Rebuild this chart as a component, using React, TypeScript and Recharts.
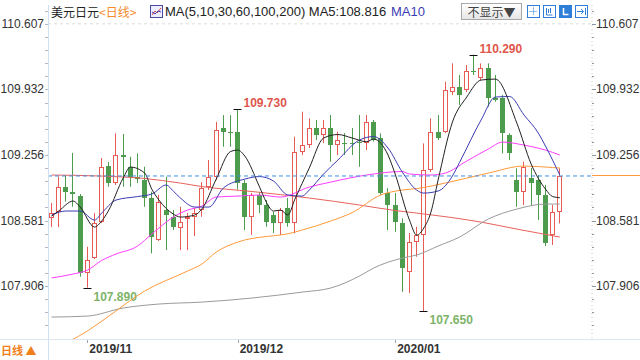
import React from "react";
import { ComposedChart, Bar, Line, XAxis, YAxis, ReferenceLine } from "recharts";

const dates = [
  "2019-10-25", "2019-10-28", "2019-10-29", "2019-10-30", "2019-10-31",
  "2019-11-01", "2019-11-04", "2019-11-05", "2019-11-06", "2019-11-07", "2019-11-08",
  "2019-11-11", "2019-11-12", "2019-11-13", "2019-11-14", "2019-11-15",
  "2019-11-18", "2019-11-19", "2019-11-20", "2019-11-21", "2019-11-22",
  "2019-11-25", "2019-11-26", "2019-11-27", "2019-11-28", "2019-11-29",
  "2019-12-02", "2019-12-03", "2019-12-04", "2019-12-05", "2019-12-06",
  "2019-12-09", "2019-12-10", "2019-12-11", "2019-12-12", "2019-12-13",
  "2019-12-16", "2019-12-17", "2019-12-18", "2019-12-19", "2019-12-20",
  "2019-12-23", "2019-12-24", "2019-12-25", "2019-12-26", "2019-12-27",
  "2019-12-30", "2019-12-31",
  "2020-01-02", "2020-01-03",
  "2020-01-06", "2020-01-07", "2020-01-08", "2020-01-09", "2020-01-10",
  "2020-01-13", "2020-01-14", "2020-01-15", "2020-01-16", "2020-01-17",
  "2020-01-20", "2020-01-21", "2020-01-22", "2020-01-23", "2020-01-24",
  "2020-01-27", "2020-01-28", "2020-01-29", "2020-01-30", "2020-01-31",
  "2020-02-03", "2020-02-04",
];

const opens = [
  108.604, 108.672, 108.929, 108.877, 108.833, 108.037, 108.195, 108.569, 109.142, 108.964,
  109.256, 109.135, 109.032, 108.998, 108.81, 108.38, 108.689, 108.62, 108.5, 108.596,
  108.617, 108.689, 108.929, 109.032, 109.534, 109.496, 109.496, 108.964, 108.62, 108.844,
  108.741, 108.638, 108.552, 108.71, 108.552, 109.29, 109.358, 109.531, 109.462, 109.531,
  109.358, 109.382, 109.382, 109.389, 109.376, 109.599, 109.427, 108.861, 108.741, 108.552,
  108.054, 108.363, 108.432, 109.101, 109.496, 109.496, 109.908, 109.959, 109.925, 110.124,
  110.046, 110.149, 109.84, 109.84, 109.462, 108.998, 108.878, 109.019, 108.998, 108.844,
  108.432, 108.671,
];
const highs = [
  108.761, 109.032, 109.049, 109.279, 108.854, 108.311, 108.658, 109.225, 109.186, 109.479,
  109.472, 109.238, 109.273, 109.135, 108.878, 108.844, 109.032, 108.689, 108.723, 108.658,
  108.71, 108.977, 109.204, 109.597, 109.667, 109.667, 109.73, 108.998, 108.864, 108.875,
  108.792, 108.672, 108.71, 108.813, 109.444, 109.702, 109.634, 109.616, 109.616, 109.668,
  109.496, 109.482, 109.534, 109.668, 109.668, 109.616, 109.479, 108.916, 108.864, 108.604,
  108.452, 108.517, 109.376, 109.634, 109.668, 110.01, 110.2, 110.08, 110.183, 110.29,
  110.2, 110.2, 110.08, 109.874, 109.479, 109.119, 109.187, 109.122, 109.05, 108.947,
  108.741, 109.119,
];
const lows = [
  108.514, 108.514, 108.775, 108.723, 108.002, 107.89, 108.184, 108.555, 108.929, 108.947,
  108.929, 108.929, 108.967, 108.723, 108.243, 108.37, 108.277, 108.483, 108.277, 108.277,
  108.421, 108.62, 108.895, 108.998, 109.341, 109.341, 108.9, 108.483, 108.432, 108.658,
  108.517, 108.452, 108.432, 108.517, 108.449, 109.256, 109.328, 109.41, 109.379, 109.187,
  109.256, 109.256, 109.256, 109.135, 109.307, 109.393, 108.844, 108.483, 108.465, 107.848,
  107.834, 108.208, 107.65, 109.08, 109.41, 109.482, 109.874, 109.77, 109.904, 110.08,
  110.028, 109.753, 109.805, 109.273, 109.204, 108.723, 108.74, 108.74, 108.586, 108.318,
  108.329, 108.552,
];
const closes = [
  108.661, 108.929, 108.877, 108.854, 108.037, 108.174, 108.555, 109.135, 108.964, 109.256,
  109.238, 109.032, 109.005, 108.81, 108.408, 108.775, 108.637, 108.517, 108.569, 108.617,
  108.658, 108.912, 109.032, 109.513, 109.496, 109.482, 108.964, 108.62, 108.844, 108.741,
  108.569, 108.552, 108.689, 108.552, 109.29, 109.358, 109.531, 109.462, 109.531, 109.358,
  109.41, 109.376, 109.376, 109.379, 109.599, 109.41, 108.861, 108.741, 108.569, 108.089,
  108.363, 108.432, 109.101, 109.496, 109.428, 109.925, 109.959, 109.874, 110.124, 110.116,
  110.149, 109.84, 109.822, 109.479, 109.273, 108.878, 109.135, 108.967, 108.844, 108.346,
  108.671, 109.04,
];

// moving averages: [candle index, value]
const ma5: [number, number][] = [
  [0, 108.627], [1, 108.679], [3, 108.782], [4, 108.72], [6, 108.514], [7, 108.576], [8, 108.689],
  [10, 109.019], [11, 109.132], [13, 109.07], [14, 108.905], [15, 108.792], [17, 108.648], [18, 108.617],
  [20, 108.638], [21, 108.7], [23, 109.008], [25, 109.292], [26, 109.307], [27, 109.245], [29, 108.936],
  [30, 108.771], [31, 108.679], [32, 108.689], [33, 108.638], [34, 108.802], [36, 109.122], [38, 109.431],
  [40, 109.467], [42, 109.431], [44, 109.393], [45, 109.42], [47, 109.256], [48, 109.06], [50, 108.586],
  [51, 108.431], [52, 108.504], [53, 108.668], [54, 108.998], [56, 109.595], [58, 109.853], [60, 110.028],
  [62, 110.038], [65, 109.585], [67, 109.163], [69, 108.905], [70, 108.828], [71, 108.816],
];
const ma10: [number, number][] = [
  [0, 108.638], [2, 108.679], [4, 108.679], [6, 108.586], [7, 108.658], [9, 108.792], [12, 108.828],
  [14, 108.854], [16, 108.947], [17, 108.885], [18, 108.813], [20, 108.72], [22, 108.72], [24, 108.916],
  [27, 109.008], [29, 109.034], [31, 108.988], [33, 108.844], [35, 108.833], [36, 108.895], [38, 109.06],
  [40, 109.204], [43, 109.41], [45, 109.446], [47, 109.328], [49, 109.08], [51, 108.895], [52, 108.864],
  [54, 108.885], [56, 109.04], [57, 109.18], [60, 109.616], [62, 109.853], [64, 109.858], [66, 109.668],
  [68, 109.482], [69, 109.348], [71, 109.05],
];
const ma30: [number, number][] = [
  [0, 107.99], [3, 108.03], [5, 108.07], [7, 108.17], [9, 108.236], [12, 108.318], [14, 108.442],
  [17, 108.617], [19, 108.689], [21, 108.73], [23, 108.823], [26, 108.833], [29, 108.844], [32, 108.823],
  [36, 108.926], [39, 108.977], [44, 109.05], [49, 109.086], [50, 109.06], [53, 109.05], [55, 109.07],
  [58, 109.194], [61, 109.317], [63, 109.389], [66, 109.358], [69, 109.307], [71, 109.256],
];
const ma60: [number, number][] = [
  [0, 107.247], [5, 107.443], [8, 107.597], [13, 107.855], [19, 108.061], [21, 108.133], [23, 108.256],
  [26, 108.359], [34, 108.462], [35, 108.483], [39, 108.576], [42, 108.663], [46, 108.845], [49, 108.895],
  [51, 108.91], [55, 108.967], [61, 109.07], [66, 109.142], [70, 109.127], [71, 109.122],
];
const ma100: [number, number][] = [
  [0, 107.587], [5, 107.597], [10, 107.68], [15, 107.721], [21, 107.741], [28, 107.783], [35, 107.844],
  [39, 107.886], [43, 108.009], [45, 108.092], [49, 108.195], [51, 108.226], [54, 108.318], [57, 108.411],
  [61, 108.596], [65, 108.699], [69, 108.751], [71, 108.751],
];
const ma200: [number, number][] = [
  [0, 109.05], [7, 109.039], [13, 109.014], [18, 108.967], [21, 108.931], [28, 108.88], [36, 108.813],
  [43, 108.741], [48, 108.684], [51, 108.658], [60, 108.565], [65, 108.493], [71, 108.411],
];

const priceTicks = [107.906, 108.581, 109.256, 109.932, 110.607];
const monthLabels: Record<string, string> = {
  "2019-11-01": "2019/11",
  "2019-12-02": "2019/12",
  "2020-01-02": "2020/01",
};
const marks = [
  { date: "2019-11-01", value: 107.89, kind: "low" },
  { date: "2019-12-02", value: 109.73, kind: "high" },
  { date: "2020-01-08", value: 107.65, kind: "low" },
  { date: "2020-01-17", value: 110.29, kind: "high" },
];

const W = 640;
const H = 360;
const AXIS_W = 48;
const X_AXIS_H = 21;
const TOP = 5;
const PLOT_RIGHT = W - AXIS_W;
const PLOT_BOTTOM = H - X_AXIS_H;
const UP = "#e65b53";
const DOWN = "#4d9b4d";
const FONT = "Arial, 'Liberation Sans', sans-serif";
const CJK = "'Noto Sans CJK SC', sans-serif";

const maColors: Record<string, string> = {
  ma200: "#e8625b",
  ma100: "#9a9a9a",
  ma60: "#ff9a3c",
  ma30: "#ff3cff",
  ma10: "#3c3cb4",
  ma5: "#222222",
};
const maSeries: Record<string, [number, number][]> = { ma200, ma100, ma60, ma30, ma10, ma5 };

const data: any[] = dates.map((date, i) => ({
  date,
  open: opens[i],
  high: highs[i],
  low: lows[i],
  close: closes[i],
  range: [lows[i], highs[i]],
}));
Object.keys(maSeries).forEach((k) => {
  maSeries[k].forEach(([i, v]) => {
    data[i][k] = v;
  });
});
// empty slots on the right of the last candle
for (let k = 0; k < 4; k++) data.push({ date: `pad${k}` });

// minor ticks between the labelled ones
const axisTicks: number[] = [];
const step = (priceTicks[1] - priceTicks[0]) / 5;
for (let k = 4; k >= 1; k--) axisTicks.push(priceTicks[0] - k * step);
priceTicks.forEach((t, i) => {
  axisTicks.push(t);
  const next = priceTicks[i + 1];
  if (next != null) for (let k = 1; k < 5; k++) axisTicks.push(t + ((next - t) * k) / 5);
});
axisTicks.push(priceTicks[priceTicks.length - 1] + step);
const isMajor = (v: number) => priceTicks.some((t) => Math.abs(t - v) < 0.0005);

const lastDate = dates[dates.length - 1];
const lastClose = closes[closes.length - 1];

function Candle(props: any) {
  const { x, y, width, height, payload } = props;
  if (!payload || payload.open == null) return null;
  const { open, close, high, low, date } = payload;
  const top = Math.min(y, y + height);
  const bottom = Math.max(y, y + height);
  const span = high - low || 1;
  const toY = (v: number) => top + ((high - v) / span) * (bottom - top);
  const cx = Math.round(x + width / 2 - 0.5) + 0.5;
  const up = close >= open;
  const color = up ? UP : DOWN;
  const bTop = Math.round(toY(Math.max(open, close)));
  const bBot = Math.max(Math.round(toY(Math.min(open, close))), bTop + 1);
  const mark = marks.find((m) => m.date === date);
  return (
    <g>
      <line x1={cx} x2={cx} y1={toY(high)} y2={toY(low)} stroke={color} strokeWidth={1} />
      {up ? (
        <rect x={cx - 2} y={bTop + 0.5} width={4} height={Math.max(bBot - bTop - 1, 0.01)} fill="#fff" stroke={color} />
      ) : (
        <rect x={cx - 2.5} y={bTop} width={5} height={bBot - bTop} fill={color} />
      )}
      {mark && (
        <g>
          <line
            x1={cx - 4}
            x2={cx + 4}
            y1={Math.round(toY(mark.value)) + 0.5}
            y2={Math.round(toY(mark.value)) + 0.5}
            stroke="#111"
          />
          <text
            x={cx + 6}
            y={toY(mark.value) + (mark.kind === "high" ? -2 : 13)}
            fontSize={12}
            fontWeight="bold"
            fontFamily={FONT}
            fill={mark.kind === "high" ? "#e0564c" : "#7db46a"}
          >
            {mark.value.toFixed(3)}
          </text>
        </g>
      )}
      {date === lastDate && (
        <line x1={PLOT_RIGHT} x2={W} y1={Math.round(toY(close)) - 0.5} y2={Math.round(toY(close)) - 0.5} stroke="#ff9a3c" />
      )}
    </g>
  );
}

function LeftTick(props: any) {
  const { y, payload } = props;
  const major = isMajor(payload.value);
  const ly = Math.round(y) + 0.5;
  return (
    <g>
      <line x1={AXIS_W - 3} x2={AXIS_W} y1={ly} y2={ly} stroke="#b0bac6" />
      {major && (
        <text x={AXIS_W - 4} y={y} dy={4} textAnchor="end" fontSize={12} fill="#333" fontFamily={FONT}>
          {payload.value.toFixed(3)}
        </text>
      )}
    </g>
  );
}

function RightTick(props: any) {
  const { y, payload } = props;
  const major = isMajor(payload.value);
  const ly = Math.round(y) + 0.5;
  return (
    <g>
      <line x1={PLOT_RIGHT} x2={PLOT_RIGHT + (major ? 4 : 2)} y1={ly} y2={ly} stroke="#8a96a4" />
      {major && (
        <text x={PLOT_RIGHT + 4} y={y} dy={4} textAnchor="start" fontSize={12} fill="#333" fontFamily={FONT}>
          {payload.value.toFixed(3)}
        </text>
      )}
    </g>
  );
}

function MonthTick(props: any) {
  const { x, payload } = props;
  const label = monthLabels[payload.value];
  if (!label) return <g />;
  const tx = Math.round(x) + 0.5;
  return (
    <g>
      <line x1={tx} x2={tx} y1={PLOT_BOTTOM} y2={PLOT_BOTTOM + 4} stroke="#9aa6b2" />
      <text x={x + 2} y={PLOT_BOTTOM + 14} fontSize={12} fontWeight="bold" fill="#333" fontFamily={FONT}>
        {label}
      </text>
    </g>
  );
}

function ToolIcon({ x, kind }: { x: number; kind: number }) {
  const filled = kind === 2;
  return (
    <svg width={13} height={13} style={{ position: "absolute", left: x, top: 5 }}>
      <rect x={0.5} y={0.5} width={12} height={12} fill={filled ? "#2f7fd8" : "#fff"} stroke="#2f7fd8" />
      {kind === 0 && <path d="M6.5 2.5v8M2.5 6.5h8" stroke="#2f7fd8" strokeDasharray="1 1" />}
      {kind === 1 && <path d="M3.5 3v7h6M5.5 4v4M7.5 3v5" stroke="#2f7fd8" fill="none" />}
      {kind === 2 && <path d="M4.5 3v6.5h5" stroke="#fff" strokeWidth={1.5} fill="none" />}
      {kind === 3 && <path d="M2 6.5h6M6 4l2.5 2.5L6 9M10.5 3v7" stroke="#2f7fd8" fill="none" />}
    </svg>
  );
}

export default function App() {
  return (
    <div style={{ position: "fixed", left: 0, top: 0, width: W, height: H, background: "#fff", overflow: "hidden" }}>
      <ComposedChart
        width={W}
        height={H}
        data={data}
        margin={{ top: TOP, right: 0, bottom: 0, left: 0 }}
        barCategoryGap={0}
      >
        <XAxis
          dataKey="date"
          height={X_AXIS_H}
          interval={0}
          tick={(p: any) => <MonthTick {...p} />}
          tickLine={false}
          axisLine={false}
        />
        <YAxis
          yAxisId="l"
          orientation="left"
          width={AXIS_W}
          domain={[107.361, 110.801]}
          ticks={axisTicks}
          interval={0}
          allowDataOverflow
          tick={(p: any) => <LeftTick {...p} />}
          tickLine={false}
          axisLine={false}
        />
        <YAxis
          yAxisId="r"
          orientation="right"
          width={AXIS_W}
          domain={[107.361, 110.801]}
          ticks={axisTicks}
          interval={0}
          allowDataOverflow
          tick={(p: any) => <RightTick {...p} />}
          tickLine={false}
          axisLine={{ stroke: "#c8c8c8", strokeDasharray: "1 3" }}
        />
        <ReferenceLine yAxisId="l" y={priceTicks[4]} stroke="#dcdcdc" strokeDasharray="3 3" />
        <Bar
          yAxisId="l"
          dataKey="range"
          barSize={5}
          isAnimationActive={false}
          shape={(p: any) => <Candle {...p} />}
        />
        {Object.keys(maSeries).map((k) => (
          <Line
            key={k}
            yAxisId="l"
            dataKey={k}
            type="monotone"
            stroke={maColors[k]}
            strokeWidth={1}
            dot={false}
            activeDot={false}
            connectNulls
            isAnimationActive={false}
          />
        ))}
        <ReferenceLine yAxisId="l" y={lastClose} stroke="#3d8ee6" strokeDasharray="4 3" />
      </ComposedChart>

      {/* frame lines */}
      <div style={{ position: "absolute", left: AXIS_W, top: TOP, width: 1, height: H - TOP, background: "#cfe0f2" }} />
      <div style={{ position: "absolute", left: 0, top: PLOT_BOTTOM, width: W, height: 1, background: "#dde5ee" }} />

      {/* header */}
      <div style={{ position: "absolute", left: 51, top: 4, fontFamily: CJK, fontSize: 12, lineHeight: "16px", color: "#222", whiteSpace: "nowrap" }}>
        美元日元<span style={{ color: "#f58a2a" }}>&lt;日线&gt;</span>
      </div>
      <svg width={13} height={13} style={{ position: "absolute", left: 150, top: 5 }}>
        <rect x={0.5} y={0.5} width={12} height={12} fill="#eef" stroke="#4a4aa8" />
        <path d="M2 10l3-4 2 2 4-5" stroke="#e0453a" fill="none" />
        <path d="M2 7l3 2 3-3 3 1" stroke="#3c3cb4" fill="none" />
      </svg>
      <div style={{ position: "absolute", left: 165, top: 4, fontFamily: FONT, fontSize: 13, lineHeight: "16px", color: "#222", whiteSpace: "nowrap" }}>
        MA(5,10,30,60,100,200) MA5:108.816
      </div>
      <div style={{ position: "absolute", left: 391, top: 4, fontFamily: FONT, fontSize: 13, lineHeight: "16px", color: "#3c3cb4", whiteSpace: "nowrap" }}>
        MA10
      </div>
      <div
        style={{
          position: "absolute",
          left: 461,
          top: 3,
          width: 59,
          height: 15,
          border: "1px solid #a8a8a8",
          background: "linear-gradient(#ffffff, #e6e6e6)",
          fontFamily: CJK,
          fontSize: 12,
          lineHeight: "15px",
          color: "#444",
          textAlign: "center",
        }}
      >
        不显示▼
      </div>
      {[0, 1, 2, 3].map((k) => (
        <ToolIcon key={k} x={527 + k * 16} kind={k} />
      ))}

      {/* bottom-left period switch */}
      <div style={{ position: "absolute", left: 1, top: 343, fontFamily: CJK, fontSize: 11, lineHeight: "14px", color: "#f07f1a", fontWeight: "bold", whiteSpace: "nowrap" }}>
        日线 ▲
      </div>
    </div>
  );
}
